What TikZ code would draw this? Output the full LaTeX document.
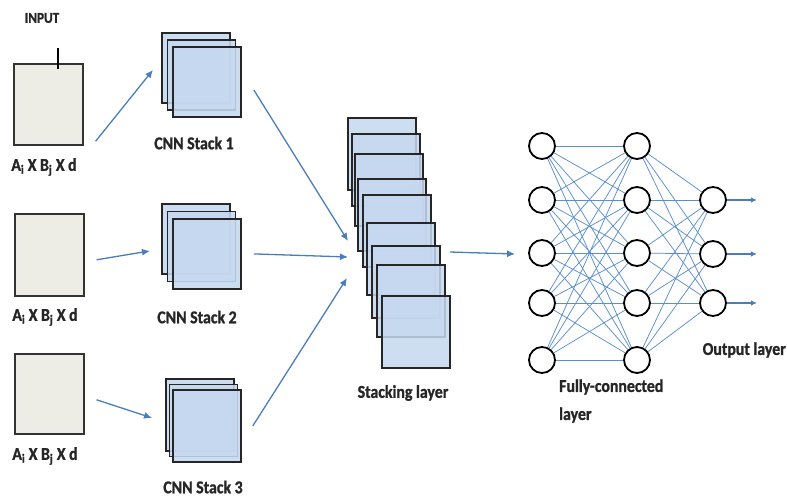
\documentclass[tikz,border=0pt]{standalone}
\usepackage{fontspec}
\setmainfont{Carlito}[FakeStretch=0.88, BoldFeatures={FakeBold=1.2}]
\usetikzlibrary{arrows.meta}
\definecolor{boxfill}{HTML}{EEEDE5}
\definecolor{fmap}{HTML}{C6D8EF}
\definecolor{arrowblue}{HTML}{4A7EBB}
\definecolor{linkblue}{HTML}{5A8ED2}
\begin{document}
\begin{tikzpicture}[x=1pt,y=-1pt,
  inbox/.style={draw=black!80, line width=1.6pt, fill=boxfill, minimum width=69pt,
    minimum height=81pt, inner sep=0pt, anchor=north west},
  fmapbox/.style={draw=black!85, line width=1.8pt, fill=fmap, fill opacity=0.88,
    draw opacity=1, minimum width=68pt, minimum height=70pt, inner sep=0pt, anchor=north west},
  stackbox/.style={fmapbox, minimum height=72pt, fill opacity=0.85},
  lbl/.style={font=\fontsize{18}{21}\selectfont\bfseries, text=black!85, inner sep=0pt},
  arr/.style={draw=arrowblue, line width=1.3pt, -{Latex[length=8pt,width=7pt]}},
  outarr/.style={draw=arrowblue, line width=1.1pt, -{Latex[length=6pt,width=5.5pt]}},
  neuron/.style={circle, draw=black, line width=1.8pt, fill=white, minimum size=26pt, inner sep=0pt},
  link/.style={draw=linkblue, line width=0.75pt}]
\useasboundingbox (0,0) rectangle (787,500);

% input volumes
\node[inbox] (in1) at (13,63) {};
\node[inbox, minimum height=82pt] (in2) at (14,213) {};
\node[inbox, minimum height=80pt] (in3) at (14,353) {};
\draw[line width=1.8pt] ([xshift=9.5pt,yshift=15pt]in1.north) -- ([xshift=9.5pt,yshift=-6pt]in1.north);
\node[lbl, font=\fontsize{15}{18}\selectfont\bfseries] (inlbl) at (42,18) {INPUT};
\node[lbl] (d1) at (44,167) {A\textsubscript{i} X B\textsubscript{j} X d};
\node[lbl] (d2) at (45,317) {A\textsubscript{i} X B\textsubscript{j} X d};
\node[lbl] (d3) at (45,456) {A\textsubscript{i} X B\textsubscript{j} X d};

% CNN stacks
\node[fmapbox] (s1a) at (161,32) {};
\node[fmapbox] (s1b) at (166.5,39) {};
\node[fmapbox] (s1c) at (172,46) {};
\node[fmapbox] (s2a) at (161,203) {};
\node[fmapbox] (s2b) at (166.5,210.5) {};
\node[fmapbox] (s2c) at (172,218) {};
\node[fmapbox, minimum height=72pt] (s3a) at (165,378) {};
\node[fmapbox, minimum height=72pt] (s3b) at (168.5,383.5) {};
\node[fmapbox, minimum height=72pt] (s3c) at (172,389) {};
\node[lbl] (c1) at (194,143) {CNN Stack 1};
\node[lbl] (c2) at (197,317) {CNN Stack 2};
\node[lbl] (c3) at (203,487) {CNN Stack 3};

% input -> stack arrows
\draw[arr] ([xshift=12pt,yshift=-37pt]in1.east) -- ([xshift=-8pt,yshift=-2pt]s1a.west);
\draw[arr] ([xshift=12pt,yshift=-5pt]in2.east) -- ([xshift=-11pt,yshift=-12pt]s2a.west);
\draw[arr] ([xshift=12pt,yshift=-6pt]in3.east) -- ([xshift=-13pt,yshift=-3pt]s3a.west);

% stacking layer
\node[stackbox] (st1) at (347,117) {};
\node[stackbox] (st2) at (351,133) {};
\node[stackbox] (st3) at (354,153) {};
\node[stackbox] (st4) at (357,178) {};
\node[stackbox] (st5) at (362,194) {};
\node[stackbox] (st6) at (366,222) {};
\node[stackbox] (st7) at (371,245) {};
\node[stackbox] (st8) at (376,264) {};
\node[stackbox] (st9) at (381,295) {};
\node[lbl] (stlbl) at (403,393) {Stacking layer};

\coordinate (j1) at (348,241);
\coordinate (j2) at (348,257);
\coordinate (j3) at (347,278);
\draw[arr] ([xshift=12pt,yshift=-8pt]s1c.east) -- (j1);
\draw[arr] ([xshift=12pt,yshift=0pt]s2c.east) -- (j2);
\draw[arr] ([xshift=11pt,yshift=0pt]s3c.east) -- (j3);

% fully-connected layers
\foreach \i/\y in {1/146,2/200,3/253,4/303,5/360}{
  \node[neuron] (h1\i) at (542,\y) {};
  \node[neuron] (h2\i) at (637,\y) {};
}
\foreach \i/\y in {1/200,2/254,3/303}{
  \node[neuron] (o\i) at (713,\y) {};
}
\foreach \i in {1,...,5}{
  \foreach \j in {1,...,5}{
    \draw[link] (h1\i) -- (h2\j);
  }
  \foreach \j in {1,2,3}{
    \draw[link] (h2\i) -- (o\j);
  }
}
\foreach \i in {1,2,3}{
  \draw[outarr] (o\i.east) -- ++(30,0);
}

\coordinate (stout) at (450,252);
\draw[arr] (stout) -- ([xshift=-13pt,yshift=-1pt]h13.west);

\node[lbl, anchor=west] (fc1) at (559,387) {Fully-connected};
\node[lbl, anchor=west] (fc2) at (559,415) {layer};
\node[lbl, anchor=east] (outlbl) at (786,350) {Output layer};
\end{tikzpicture}
\end{document}
